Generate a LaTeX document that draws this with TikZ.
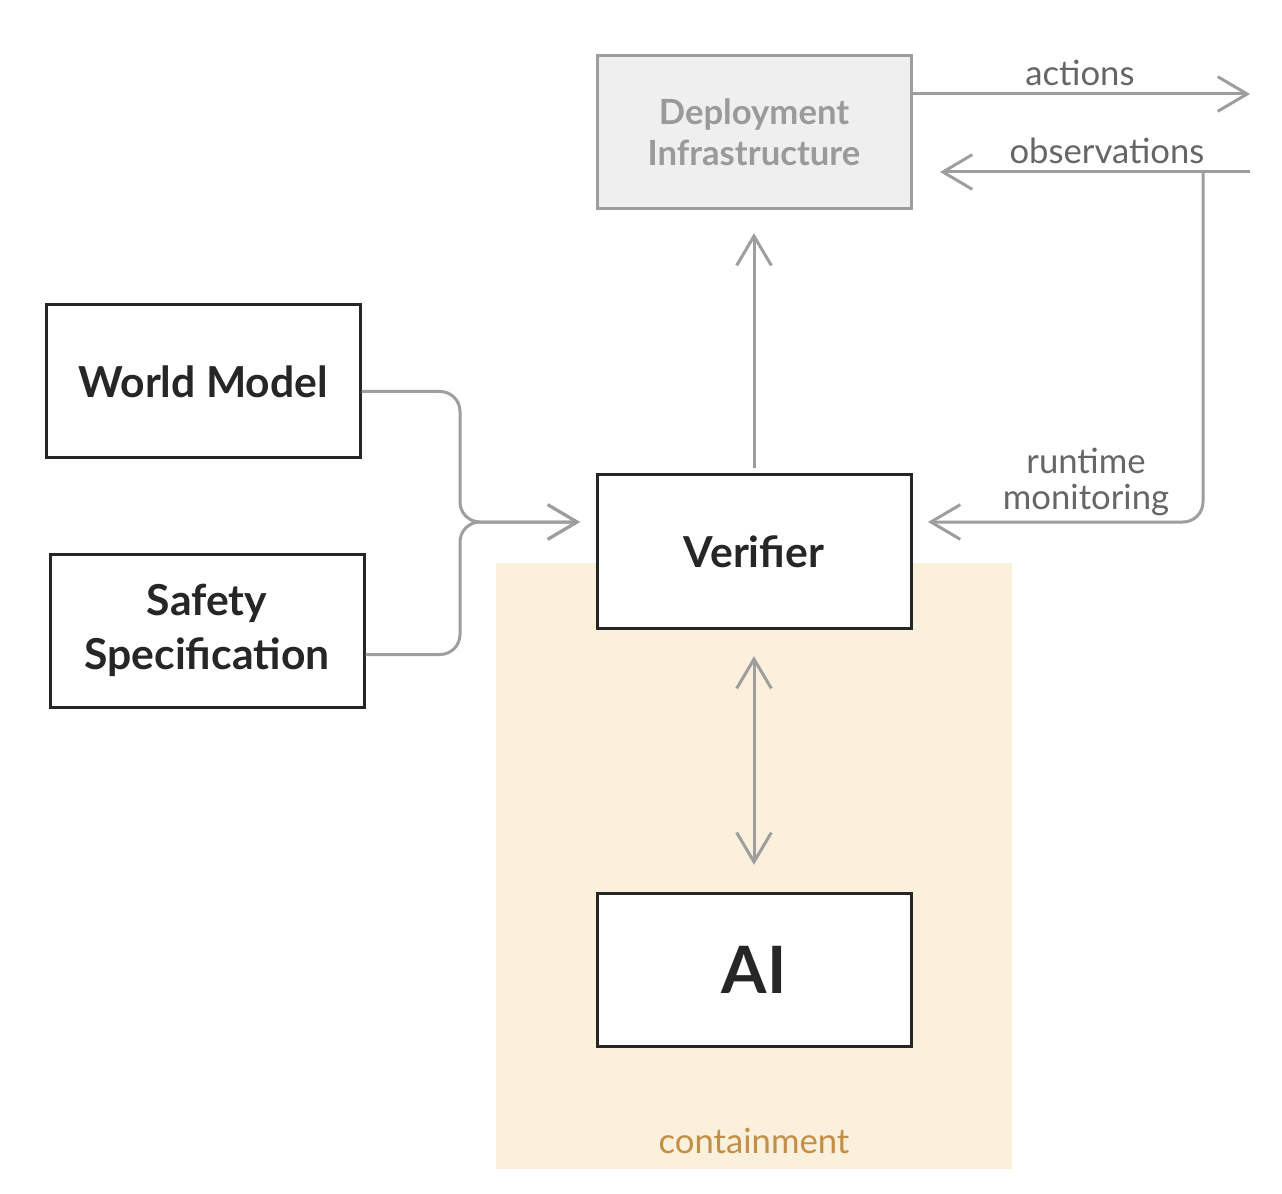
\documentclass[tikz,border=0pt]{standalone}
\usepackage{fontspec}
\setmainfont{Lato}
\usetikzlibrary{arrows.meta}

\definecolor{linegray}{HTML}{9E9E9E}
\definecolor{boxdark}{HTML}{262626}
\definecolor{labelgray}{HTML}{666666}
\definecolor{deployfill}{HTML}{EFEFEF}
\definecolor{deploytext}{HTML}{9A9A9A}
\definecolor{contfill}{HTML}{FAF0DC}
\definecolor{conttext}{HTML}{C38F46}

\tikzset{%
  every block/.style={
    draw=boxdark,
    line width=2.25pt,
    fill=white,
    minimum width=235.5pt,
    minimum height=114.75pt,
    align=center,
    text=boxdark,
    font=\bfseries\fontsize{32}{40}\selectfont
  },
  deploy block/.style={
    every block,
    draw=linegray,
    fill=deployfill,
    text=deploytext,
    font=\bfseries\fontsize{26}{31}\selectfont
  },
  flow/.style={
    draw=linegray,
    line width=2.25pt,
    -{Straight Barb[length=22pt, width=26pt]}
  },
  flow label/.style={
    text=labelgray,
    align=center,
    inner sep=0pt,
    font=\fontsize{26}{27}\selectfont
  },
}

\begin{document}
\begin{tikzpicture}[x=0.75pt, y=-0.75pt]
  \useasboundingbox (0,0) rectangle (1282,1194);
  \fill [contfill] (496,563) rectangle (1012,1169);
  \node [text=conttext, font=\fontsize{26}{28}\selectfont] (cont-label) at (754,1141) {containment};
  \node [deploy block] (deploy) at (754,132.5) {Deployment\\Infrastructure};
  \node [every block] (world) at (203,381.5) {World Model};
  \node [every block] (spec) at (207,630.5) {Safety\\Specification};
  \node [every block] (verifier) at (754,551.5) {Verifier};
  \node [every block, font=\bfseries\fontsize{49}{56}\selectfont] (ai) at (754,969.5) {AI};
  \coordinate (act-end) at (1250,94);
  \coordinate (obs-start) at (1250,172);
  \coordinate (obs-end) at (940,172);
  \coordinate (obs-split) at (1203,172);
  \coordinate (mon-end) at (928,522);
  \coordinate (merge) at (460,522);
  \coordinate (merge-end) at (580,522);
  \node [flow label] (act-label) at (1080,73) {actions};
  \node [flow label] (obs-label) at (1107,151) {observations};
  \node [flow label] (mon-label) at (1086,482) {runtime\\monitoring};
\draw [flow] (deploy.east |- act-end) -- (act-end);
\draw [flow] (obs-start) -- (obs-end);
\draw [flow, rounded corners=15pt] (obs-split) -- (obs-split |- mon-end) -- (mon-end);
\draw [flow] ([yshift=3.75pt]verifier.north) -- ([yshift=-17pt]deploy.south);
\draw [flow, {Straight Barb[length=22pt, width=26pt]}-{Straight Barb[length=22pt, width=26pt]}] ([yshift=-20pt]verifier.south) -- ([yshift=20pt]ai.north);
\draw [flow, rounded corners=15pt] ([yshift=-7.5pt]world.east) -- ([yshift=-7.5pt]world.east -| merge) -- (merge) -- (merge-end);
\draw [flow, rounded corners=15pt] ([yshift=-18pt]spec.east) -- ([yshift=-18pt]spec.east -| merge) -- (merge) -- (merge-end);
\end{tikzpicture}
\end{document}
